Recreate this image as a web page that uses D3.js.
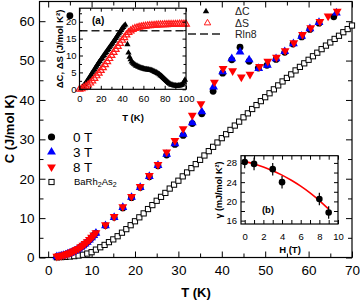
<!DOCTYPE html>
<html>
<head>
<meta charset="utf-8">
<script src="https://cdn.jsdelivr.net/npm/d3@7"></script>
<style>
body { margin: 0; background: #fff; }
svg text { font-family: "Liberation Sans", Arial, sans-serif; }
</style>
</head>
<body>
<script>
// ---- main panel data, C(T) in J/mol K
const lowT = [2,2.5,3,3.5,4,4.5,5,5.5,6,6.5,7,7.5,8,8.5,9,9.5,10,10.5,11];
const lowC = [0.2,0.3,0.4,0.55,0.7,0.9,1.1,1.35,1.6,1.9,2.2,2.6,3.0,3.45,3.9,4.45,5.0,5.6,6.2];

const t0 = [13.2,15.2,17.2,19.2,21.2,23.3,25.3,27.3,29.2,31.1,33.2,35.4,38.0,40.2,42.3,44.2,46.3,48.4,50.4,52.5,54.5,56.4,58.4,60.3,62.4,65.8];
const c0 = [8.1,10.2,12.6,15.2,17.8,20.5,23.3,26.0,28.7,31.0,34.0,36.5,42.2,46.8,50.2,53.4,49.8,48.1,48.8,50.3,52.1,54.2,56.0,57.9,59.5,61.1];

const t3 = [13.2,15.2,17.2,19.2,21.2,23.3,25.3,27.3,29.2,31.1,33.2,35.4,38.1,40.2,42.3,44.2,46.3,48.5,50.5,52.5,54.5,56.5,58.4,60.3,62.4,66.4];
const c3 = [8.1,10.2,12.7,15.3,17.8,20.6,23.4,26.2,28.9,31.3,34.2,37.0,43.3,47.2,50.5,52.2,50.2,48.0,48.8,50.5,52.3,54.3,56.2,58.1,59.7,62.1];

const t8 = [13.2,15.2,17.2,19.2,21.2,23.3,25.3,27.3,29.2,31.1,33.2,35.2,38.3,40.3,42.5,44.5,46.5,48.7,50.6,52.6,54.6,56.6,58.6,60.5,62.6,64.5,66.6];
const c8 = [8.3,10.4,12.9,15.5,18.0,20.8,23.6,26.8,29.7,32.7,36.1,39.0,44.5,48.0,47.4,45.8,46.5,48.5,49.8,50.8,52.5,54.5,56.6,58.3,59.9,61.3,62.5];

const tB = d3.range(2, 71);
const cB = [0.05,0.1,0.15,0.25,0.35,0.5,0.7,1.0,1.35,2.0,2.6,3.2,3.9,4.6,5.4,6.3,7.2,8.2,9.2,10.2,11.2,12.3,13.3,14.4,15.4,16.4,17.5,18.5,19.5,
  20.6,21.6,22.7,23.7,24.8,25.9,27.0,28.1,29.2,30.3,31.3,32.4,33.5,34.5,35.6,36.6,37.7,38.7,39.7,40.7,41.7,42.7,43.7,44.7,45.6,46.5,47.5,
  48.4,49.3,50.2,51.1,52.0,52.9,53.8,54.6,55.5,56.3,57.2,58.0,58.9];

const strayT = [5.0];
const strayC = [61.4];

const xMajor = [0,10,20,30,40,50,60,70];
const xMinor = [5,15,25,35,45,55,65];
const yMajor = [0,10,20,30,40,50,60];
const yMinor = [5,15,25,35,45,55];

const legendLabels = ["0 T", "3 T", "8 T"];

// ---- inset (a): dC and dS in J/mol K^2
const tdC = [2,3,4,5,6,7,8,9,10,11,12,13,14,15,16,17,18,19,20,21,22,23,24,25,26,27,28,29,30,31,32,33,34,35,36,37,38,39,40,41,42,43,
  45,46,47,48,49,50,51,52,53,54,55,56,57,58,59,60,61,62,63,64,65,66,67,68,69,70,71,72,73,74,75,76,77,78,79,80,81,82,83,84,85,86,87,88,89,90,
  91,92,93,94,95,96,97,98,99];
const dC = [0.3,0.7,1.1,1.5,1.9,2.4,2.9,3.4,3.9,4.4,4.9,5.4,5.9,6.4,6.9,7.4,7.9,8.3,8.8,9.2,9.7,10.1,10.6,11.0,11.5,11.9,12.4,12.8,13.3,13.7,
  14.2,14.6,15.1,15.6,16.1,16.5,17.0,17.5,18.0,18.4,18.8,19.1,
  13.3,10.8,9.6,8.8,8.2,7.8,7.5,7.3,7.0,6.9,6.7,6.6,6.4,6.3,6.2,6.1,6.0,5.9,5.9,5.8,5.8,5.7,5.7,5.6,5.4,5.3,5.1,5.0,4.8,4.6,4.4,4.1,3.9,3.6,
  3.3,3.0,2.7,2.4,2.1,1.8,1.6,1.4,1.3,1.2,1.1,1.1,1.0,1.0,1.1,1.1,1.2,1.3,1.6,2.2,2.8];
const tdS = d3.range(0, 101, 2);
const dS = [0,0.15,0.45,0.85,1.3,1.85,2.5,3.2,4.0,4.8,5.6,6.4,7.3,8.2,9.1,10.0,10.9,11.8,12.7,13.6,14.5,15.3,16.1,16.8,17.3,17.7,18.0,
  18.2,18.4,18.5,18.6,18.7,18.8,18.85,18.9,18.95,19.0,19.05,19.1,19.1,19.15,19.15,19.2,19.2,19.2,19.25,19.25,19.3,19.3,19.3,19.3];
const Rln8 = 17.29;
const aXMajor = [0,20,40,60,80,100];
const aXMinor = [10,30,50,70,90];
const aYMajor = [0,5,10,15,20];
const aYMinor = [2.5,7.5,12.5,17.5,22.5];

// ---- inset (b): gamma(H)
const H = [0,1,3,4,8,9];
const gam = [28.2,27.8,26.7,24.0,20.5,17.7];
const gamErr = [1.3,1.3,1.3,1.3,1.3,1.3];
const fitH = [0,1,2,3,4,5,6,7,8,9];
const fitG = [28.3,27.8,27.2,26.4,25.5,24.4,23.2,21.8,20.2,18.4];
const bXMajor = [0,2,4,6,8,10];
const bXMinor = [1,3,5,7,9];
const bYMajor = [16,20,24,28];
const bYMinor = [18,22,26];

var svg = d3.select("body")
    .append("svg")
    .attr("width", 360)
    .attr("height", 300);

// frame + inward ticks on all four sides
function frame(g, x, y, o) {
    let x0 = x.range()[0], x1 = x.range()[1];
    let y0 = y.range()[0], y1 = y.range()[1];
    let fmt = d3.format("d");
    let sides = [
        [d3.axisBottom, `translate(0,${y0})`, x, o.xMajor, o.xMinor, true, o.padX],
        [d3.axisTop, `translate(0,${y1})`, x, o.xMajor, o.xMinor, false, 0],
        [d3.axisLeft, `translate(${x0},0)`, y, o.yMajor, o.yMinor, true, o.padY],
        [d3.axisRight, `translate(${x1},0)`, y, o.yMajor, o.yMinor, false, 0]
    ];
    sides.forEach(s => {
        let ax = g.append("g").attr("transform", s[1]);
        ax.append("g").call(s[0](s[2]).tickValues(s[3]).tickSize(-o.big).tickPadding(s[6])
            .tickFormat(s[5] ? (o.fmt || fmt) : ""));
        ax.append("g").call(s[0](s[2]).tickValues(s[4]).tickSize(-o.small).tickFormat(""));
        ax.selectAll(".domain").remove();
        ax.selectAll("line").attr("stroke", "#000").attr("stroke-width", 1);
        ax.selectAll("text").attr("font-size", o.font).attr("font-family", "Liberation Sans, Arial, sans-serif").attr("fill", "#000");
    });
    g.append("rect")
        .attr("x", x0).attr("y", y1)
        .attr("width", x1 - x0).attr("height", y0 - y1)
        .attr("fill", "none").attr("stroke", "#000").attr("stroke-width", 1.2);
}

let tri = d3.symbol(d3.symbolTriangle, 34)();
let triSmall = d3.symbol(d3.symbolTriangle, 17)();
let triOpen = d3.symbol(d3.symbolTriangle, 20)();

// ================= main panel
let x = d3.scaleLinear().domain([-2, 70]).range([39.5, 352]);
let y = d3.scaleLinear().domain([0, 65]).range([257.5, 1.5]);

let main = svg.append("g");
frame(main, x, y, {xMajor, xMinor, yMajor, yMinor, big: 6, small: 4, padX: 8, padY: 5, font: 13.5});

let allT = tB.map((t, i) => [t, cB[i]]);
main.selectAll(".sq").data(allT).join("rect")
    .attr("x", d => x(d[0]) - 2.6).attr("y", d => y(d[1]) - 2.6)
    .attr("width", 5.2).attr("height", 5.2)
    .attr("fill", "#fff").attr("stroke", "#000").attr("stroke-width", 1);

let s0 = lowT.concat(t0).map((t, i) => [t, lowC.concat(c0)[i]]);
let s3 = lowT.concat(t3).map((t, i) => [t, lowC.concat(c3)[i]]);
let s8 = lowT.concat(t8).map((t, i) => [t, lowC.concat(c8)[i] + (i < lowT.length ? 0.1 : 0)]);

main.selectAll(".c0").data(s0.concat(strayT.map((t, i) => [t, strayC[i]]))).join("circle")
    .attr("cx", d => x(d[0])).attr("cy", d => y(d[1])).attr("r", 3.4).attr("fill", "#000");
main.selectAll(".c3").data(s3).join("path")
    .attr("d", tri).attr("transform", d => `translate(${x(d[0])},${y(d[1])})`).attr("fill", "#0000ff");
main.selectAll(".c8").data(s8).join("path")
    .attr("d", tri).attr("transform", d => `translate(${x(d[0])},${y(d[1])}) rotate(180)`).attr("fill", "#ff0000");

main.append("text").attr("transform", "translate(14,129) rotate(-90)")
    .attr("text-anchor", "middle").attr("font-size", 13).attr("font-weight", "bold").text("C (J/mol K)");
main.append("text").attr("x", 196).attr("y", 297)
    .attr("text-anchor", "middle").attr("font-size", 13).attr("font-weight", "bold").text("T (K)");

// legend
let leg = main.append("g");
legendLabels.forEach((l, i) => {
    let ly = 137 + i * 15;
    if (i == 0) leg.append("circle").attr("cx", 51.5).attr("cy", ly).attr("r", 3.6).attr("fill", "#000");
    if (i == 1) leg.append("path").attr("d", tri).attr("transform", `translate(51.5,${ly})`).attr("fill", "#0000ff");
    if (i == 2) leg.append("path").attr("d", tri).attr("transform", `translate(51.5,${ly}) rotate(180)`).attr("fill", "#ff0000");
    leg.append("text").attr("x", 73).attr("y", ly).attr("dy", "0.36em").attr("font-size", 13.5).text(l);
});
leg.append("rect").attr("x", 48.9).attr("y", 179.4).attr("width", 5.2).attr("height", 5.2)
    .attr("fill", "#fff").attr("stroke", "#000");
let bt = leg.append("text").attr("x", 74).attr("y", 182).attr("dy", "0.36em").attr("font-size", 9.5);
bt.append("tspan").text("BaRh");
bt.append("tspan").attr("font-size", 7).attr("dy", 2).text("2");
bt.append("tspan").attr("dy", -2).text("As");
bt.append("tspan").attr("font-size", 7).attr("dy", 2).text("2");

// ================= inset (a)
let xa = d3.scaleLinear().domain([0, 100]).range([79.5, 186]);
let ya = d3.scaleLinear().domain([0, 24]).range([89.3, 8.2]);
let ia = svg.append("g");
ia.append("rect").attr("x", 79.5).attr("y", 8.2).attr("width", 106.5).attr("height", 81.1).attr("fill", "#fff");

ia.append("line")
    .attr("x1", xa(0)).attr("x2", xa(100)).attr("y1", ya(Rln8)).attr("y2", ya(Rln8))
    .attr("stroke", "#222").attr("stroke-width", 1.5).attr("stroke-dasharray", "8,4");

ia.selectAll(".dc").data(tdC.map((t, i) => [t, dC[i]])).join("path")
    .attr("d", triSmall).attr("transform", d => `translate(${xa(d[0])},${ya(d[1])})`).attr("fill", "#000");
ia.selectAll(".ds").data(tdS.map((t, i) => [t, dS[i]])).join("path")
    .attr("d", triOpen).attr("transform", d => `translate(${xa(d[0])},${ya(d[1])})`)
    .attr("fill", "none").attr("stroke", "#ff1a1a").attr("stroke-width", 1.2);

frame(ia, xa, ya, {xMajor: aXMajor, xMinor: aXMinor, yMajor: aYMajor, yMinor: aYMinor, big: 3.5, small: 2.5, padX: 6, padY: 3, font: 9.5});

ia.append("text").attr("x", 92).attr("y", 24).attr("font-size", 10).attr("font-weight", "bold").text("(a)");
ia.append("text").attr("x", 133).attr("y", 121).attr("text-anchor", "middle")
    .attr("font-size", 9.5).attr("font-weight", "bold").text("T (K)");
ia.append("text").attr("transform", "translate(63,49) rotate(-90)").attr("text-anchor", "middle")
    .attr("font-size", 9.5).attr("font-weight", "bold").text("ΔC, ΔS (J/mol K²)");

// inset (a) legend
let la = svg.append("g");
la.append("path").attr("d", d3.symbol(d3.symbolTriangle, 18)()).attr("transform", "translate(206,11.5)").attr("fill", "#000");
la.append("path").attr("d", d3.symbol(d3.symbolTriangle, 18)()).attr("transform", "translate(207.5,23)")
    .attr("fill", "none").attr("stroke", "#ff1a1a").attr("stroke-width", 1);
la.append("line").attr("x1", 188).attr("x2", 223).attr("y1", 34).attr("y2", 34)
    .attr("stroke", "#222").attr("stroke-width", 1.5).attr("stroke-dasharray", "8,4");
["ΔC", "ΔS", "Rln8"].forEach((l, i) => {
    la.append("text").attr("x", 235).attr("y", [11.5, 23, 34][i]).attr("dy", "0.36em")
        .attr("font-size", 10.5).attr("fill", "#222").text(l);
});

// ================= inset (b)
let xb = d3.scaleLinear().domain([-0.4, 10]).range([241, 338]);
let yb = d3.scaleLinear().domain([15.3, 29.5]).range([224, 155.7]);
let ib = svg.append("g");
ib.append("rect").attr("x", 241).attr("y", 155.7).attr("width", 97).attr("height", 68.3).attr("fill", "#fff");
frame(ib, xb, yb, {xMajor: bXMajor, xMinor: bXMinor, yMajor: bYMajor, yMinor: bYMinor, big: 4, small: 4, padX: 9, padY: 4, font: 9.5});

ib.append("path").datum(fitH.map((h, i) => [h, fitG[i]]))
    .attr("d", d3.line().curve(d3.curveBasis).x(d => xb(d[0])).y(d => yb(d[1])))
    .attr("fill", "none").attr("stroke", "#ff0000").attr("stroke-width", 1.6);
let pts = H.map((h, i) => [h, gam[i], gamErr[i]]);
ib.selectAll(".eb").data(pts).join("line")
    .attr("x1", d => xb(d[0])).attr("x2", d => xb(d[0]))
    .attr("y1", d => yb(d[1] - d[2])).attr("y2", d => yb(d[1] + d[2]))
    .attr("stroke", "#000").attr("stroke-width", 1.2);
ib.selectAll(".pt").data(pts).join("circle")
    .attr("cx", d => xb(d[0])).attr("cy", d => yb(d[1])).attr("r", 3.3).attr("fill", "#000");

ib.append("text").attr("x", 268).attr("y", 210).attr("dy", "0.36em").attr("text-anchor", "middle")
    .attr("font-size", 9.5).attr("font-weight", "bold").text("(b)");
ib.append("text").attr("x", 290).attr("y", 253).attr("text-anchor", "middle")
    .attr("font-size", 9.5).attr("font-weight", "bold").text("H (T)");
ib.append("text").attr("transform", "translate(222,190) rotate(-90)").attr("text-anchor", "middle")
    .attr("font-size", 9).attr("font-weight", "bold").text("γ (mJ/mol K²)");
</script>
</body>
</html>
